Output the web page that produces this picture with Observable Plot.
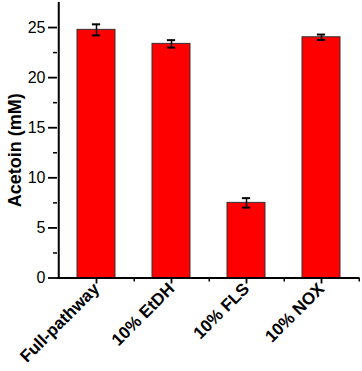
<!DOCTYPE html>
<html>
<head>
<meta charset="utf-8">
<script src="https://cdn.jsdelivr.net/npm/d3@7"></script>
<script src="https://cdn.jsdelivr.net/npm/@observablehq/plot@0.6"></script>
<style>
  html, body { margin: 0; padding: 0; background: #fff; }
  #chart svg { display: block; font-family: Arial, "Liberation Sans", sans-serif; }
</style>
</head>
<body>
<div id="chart"></div>
<script>
const categories = ["Full-pathway", "10% EtDH", "10% FLS", "10% NOX"];
const acetoin = [24.77, 23.37, 7.5, 24.03];
const errors = [0.55, 0.37, 0.47, 0.27];
const yTicks = [0, 5, 10, 15, 20, 25];
const yMinorTicks = [2.5, 7.5, 12.5, 17.5, 22.5];
const yLabel = "Acetoin (mM)";

const data = categories.map((c, i) => ({cat: c, v: acetoin[i], e: errors[i]}));

const W = 362, H = 371, mL = 57, mR = 3, mT = 2, mB = 93.5;
const yMax = 27.5;
const step = (W - mL - mR) / categories.length;
const bandwidth = step * 0.5;
const capW = 8;
const capInset = (bandwidth - capW) / 2;

const chart = Plot.plot({
  width: W,
  height: H,
  marginLeft: mL,
  marginRight: mR,
  marginTop: mT,
  marginBottom: mB,
  style: {fontFamily: "Arial, 'Liberation Sans', sans-serif", color: "#000", background: "#fff"},
  x: {domain: categories, paddingInner: 0.5, paddingOuter: 0.25},
  y: {domain: [0, yMax]},
  marks: [
    Plot.barY(data, {x: "cat", y: "v", fill: "#ff0000", stroke: "#333", strokeWidth: 1}),
    Plot.ruleX(data, {x: "cat", y1: d => d.v - d.e, y2: d => d.v + d.e, stroke: "#000", strokeWidth: 1.5}),
    Plot.tickY(data, {x: "cat", y: d => d.v + d.e, stroke: "#000", strokeWidth: 2, insetLeft: capInset, insetRight: capInset}),
    Plot.tickY(data, {x: "cat", y: d => d.v - d.e, stroke: "#000", strokeWidth: 2, insetLeft: capInset, insetRight: capInset}),
    Plot.axisY({ticks: yTicks, tickSize: 9, tickPadding: 3, fontSize: 16, label: null, stroke: "#000", strokeWidth: 1.8}),
    Plot.axisY({ticks: yMinorTicks, tickSize: 4, text: null, label: null, stroke: "#000", strokeWidth: 1.5}),
    Plot.axisX({tickSize: 6, tickRotate: -45, tickPadding: 2, fontSize: 17, fontWeight: "bold", label: null, stroke: "#000", strokeWidth: 1.8}),
    Plot.axisX({tickSize: 4, text: null, label: null, dx: step / 2, stroke: "#000", strokeWidth: 1.5}),
    Plot.ruleY([0], {stroke: "#000", strokeWidth: 2}),
    Plot.ruleX([categories[0]], {dx: -step / 2, y1: 0, y2: yMax, stroke: "#000", strokeWidth: 2}),
    Plot.text([yLabel], {frameAnchor: "left", dx: -42, dy: 10, rotate: -90, text: d => d, fontSize: 18, fontWeight: "bold", textAnchor: "middle", lineAnchor: "middle", fill: "#000"})
  ]
});

document.getElementById("chart").appendChild(chart);
</script>
</body>
</html>
